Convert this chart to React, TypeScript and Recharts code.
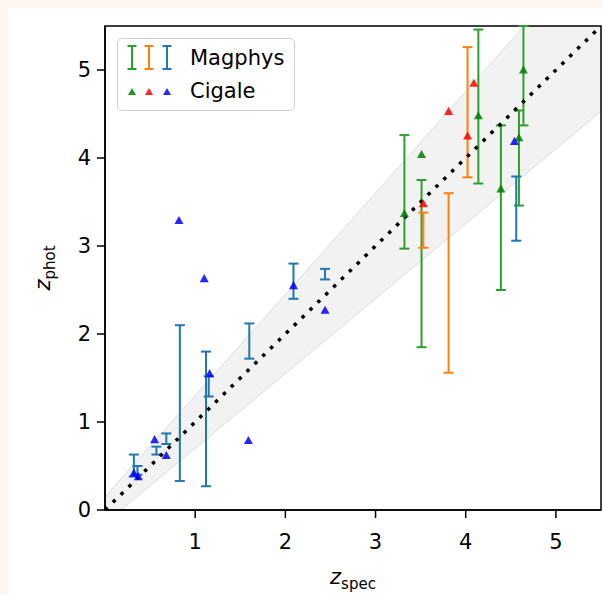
import { useEffect } from 'react';
import { ComposedChart, Area, Line, Scatter, ErrorBar, XAxis, YAxis, ReferenceArea } from 'recharts';

// shaded band (edges) and the 1:1 line
const bandX = [0, 5.5];
const bandLow = [-0.15, 4.53];
const bandHigh = [0.15, 6.48];
const diagY = [0, 5.5];

// Magphys error bars: x, lower, upper (top one runs off the plot)
const magGreenX = [3.32, 3.51, 4.14, 4.39, 4.59, 4.64];
const magGreenLo = [2.97, 1.85, 3.71, 2.5, 3.46, 4.37];
const magGreenHi = [4.26, 3.75, 5.46, 4.37, 4.54, 5.5];

const magOrangeX = [3.53, 3.81, 4.02];
const magOrangeLo = [2.98, 1.56, 3.78];
const magOrangeHi = [3.38, 3.6, 5.26];

const magBlueX = [0.32, 0.36, 0.57, 0.68, 0.83, 1.12, 1.15, 1.6, 2.09, 2.44, 4.56];
const magBlueLo = [0.38, 0.4, 0.63, 0.75, 0.33, 0.27, 1.29, 1.72, 2.4, 2.62, 3.06];
const magBlueHi = [0.63, 0.5, 0.72, 0.87, 2.1, 1.8, 1.52, 2.12, 2.8, 2.74, 3.79];

// Cigale points
const cigGreenX = [3.32, 3.51, 4.14, 4.39, 4.59, 4.64];
const cigGreenY = [3.37, 4.04, 4.48, 3.65, 4.23, 5.0];

const cigRedX = [3.53, 3.81, 4.02, 4.09];
const cigRedY = [3.48, 4.53, 4.25, 4.85];

const cigBlueX = [0.32, 0.37, 0.55, 0.68, 0.82, 1.1, 1.16, 1.59, 2.09, 2.44, 4.54];
const cigBlueY = [0.42, 0.38, 0.8, 0.62, 3.29, 2.63, 1.55, 0.79, 2.55, 2.27, 4.19];

const xTicks = [1, 2, 3, 4, 5];
const yTicks = [0, 1, 2, 3, 4, 5];

const GREEN = '#2ca02c';
const ORANGE = '#ff7f0e';
const BLUE = '#1f77b4';

const lineData = bandX.map((x, i) => ({ x, band: [bandLow[i], bandHigh[i]], diag: diagY[i] }));

const barData = (xs: number[], lo: number[], hi: number[]) =>
  xs.map((x, i) => {
    const mid = (lo[i] + hi[i]) / 2;
    return { x, y: mid, err: [mid - lo[i], hi[i] - mid] };
  });

const pointData = (xs: number[], ys: number[]) => xs.map((x, i) => ({ x, y: ys[i] }));

const noMarker = () => <g />;

const triangle = (color: string) => (props: any) => {
  const { cx, cy } = props;
  const r = 4.5;
  return (
    <polygon
      points={`${cx},${cy - r} ${cx - r},${cy + r * 0.8} ${cx + r},${cy + r * 0.8}`}
      fill={color}
      fillOpacity={0.85}
    />
  );
};

const font = 'DejaVu Sans, sans-serif';

const XLabel = (props: any) => {
  const vb = props.viewBox;
  const cx = vb.x + vb.width / 2;
  return (
    <text x={cx} y={vb.y + 74} textAnchor="middle" fontFamily={font} fill="#000">
      <tspan fontSize={21} fontStyle="italic">z</tspan>
      <tspan fontSize={15} dy={5}>spec</tspan>
    </text>
  );
};

const YLabel = (props: any) => {
  const vb = props.viewBox;
  const cx = 42;
  const cy = vb.y + vb.height / 2;
  return (
    <text x={cx} y={cy} transform={`rotate(-90 ${cx} ${cy})`} textAnchor="middle" fontFamily={font} fill="#000">
      <tspan fontSize={21} fontStyle="italic">z</tspan>
      <tspan fontSize={15} dy={5}>phot</tspan>
    </text>
  );
};

const BarIcon = ({ x, color }: { x: number; color: string }) => (
  <g stroke={color} strokeWidth={2}>
    <line x1={x} y1={7} x2={x} y2={30} />
    <line x1={x - 4.5} y1={7} x2={x + 4.5} y2={7} />
    <line x1={x - 4.5} y1={30} x2={x + 4.5} y2={30} />
  </g>
);

const TriIcon = ({ x, color }: { x: number; color: string }) => (
  <polygon points={`${x},${49} ${x - 4},${56} ${x + 4},${56}`} fill={color} fillOpacity={0.85} />
);

function LegendBox() {
  return (
    <div
      style={{
        position: 'absolute',
        left: 109,
        top: 30,
        width: 176,
        height: 71,
        border: '1.5px solid #d0d0d0',
        borderRadius: 5,
        background: 'rgba(255,255,255,0.8)',
        fontFamily: font,
        fontSize: 21,
        color: '#000',
      }}
    >
      <svg width={176} height={71} style={{ position: 'absolute', left: 0, top: 0 }}>
        <BarIcon x={14} color={GREEN} />
        <BarIcon x={31} color={ORANGE} />
        <BarIcon x={49} color={BLUE} />
        <TriIcon x={14} color="green" />
        <TriIcon x={31} color="red" />
        <TriIcon x={49} color="blue" />
        <text x={72} y={26} fontSize={21} fontFamily={font}>Magphys</text>
        <text x={72} y={59} fontSize={21} fontFamily={font}>Cigale</text>
      </svg>
    </div>
  );
}

export default function App() {
  useEffect(() => {
    document.body.style.background = '#fdf6f0';
    document.documentElement.style.overflow = 'hidden';
  }, []);

  return (
    <div style={{ position: 'fixed', left: 8, top: 8, width: 595, height: 587, background: '#fff', fontFamily: font }}>
      <ComposedChart width={595} height={587} data={lineData} margin={{ top: 18, right: 2, bottom: 0, left: 0 }}>
        <XAxis
          type="number"
          dataKey="x"
          domain={[0, 5.5]}
          ticks={xTicks}
          allowDataOverflow
          height={85}
          tickSize={8}
          tickMargin={16}
          axisLine={{ stroke: '#000', strokeWidth: 1.5 }}
          tickLine={{ stroke: '#000', strokeWidth: 1.5 }}
          tick={{ fill: '#000', fontSize: 21, fontFamily: font }}
          label={<XLabel />}
        />
        <YAxis
          type="number"
          domain={[0, 5.5]}
          ticks={yTicks}
          allowDataOverflow
          width={97}
          tickSize={8}
          tickMargin={6}
          axisLine={{ stroke: '#000', strokeWidth: 1.5 }}
          tickLine={{ stroke: '#000', strokeWidth: 1.5 }}
          tick={{ fill: '#000', fontSize: 21, fontFamily: font }}
          label={<YLabel />}
        />
        <Area
          type="linear"
          dataKey="band"
          fill="#ececec"
          fillOpacity={0.7}
          stroke="#dcdcdc"
          strokeWidth={1}
          isAnimationActive={false}
          activeDot={false}
        />
        <Scatter data={barData(magGreenX, magGreenLo, magGreenHi)} dataKey="y" shape={noMarker} isAnimationActive={false}>
          <ErrorBar dataKey="err" direction="y" stroke={GREEN} strokeWidth={2} width={5} isAnimationActive={false} />
        </Scatter>
        <Scatter data={barData(magOrangeX, magOrangeLo, magOrangeHi)} dataKey="y" shape={noMarker} isAnimationActive={false}>
          <ErrorBar dataKey="err" direction="y" stroke={ORANGE} strokeWidth={2} width={5} isAnimationActive={false} />
        </Scatter>
        <Scatter data={barData(magBlueX, magBlueLo, magBlueHi)} dataKey="y" shape={noMarker} isAnimationActive={false}>
          <ErrorBar dataKey="err" direction="y" stroke={BLUE} strokeWidth={2} width={5} isAnimationActive={false} />
        </Scatter>
        <Scatter data={pointData(cigGreenX, cigGreenY)} dataKey="y" shape={triangle('green')} isAnimationActive={false} />
        <Scatter data={pointData(cigRedX, cigRedY)} dataKey="y" shape={triangle('red')} isAnimationActive={false} />
        <Scatter data={pointData(cigBlueX, cigBlueY)} dataKey="y" shape={triangle('blue')} isAnimationActive={false} />
        <Line
          type="linear"
          dataKey="diag"
          stroke="#000"
          strokeWidth={3.5}
          strokeDasharray="3.5 7.5"
          dot={false}
          activeDot={false}
          isAnimationActive={false}
        />
        <ReferenceArea x1={0} x2={5.5} y1={0} y2={5.5} fill="none" stroke="#000" strokeWidth={1.5} />
      </ComposedChart>
      <LegendBox />
    </div>
  );
}
